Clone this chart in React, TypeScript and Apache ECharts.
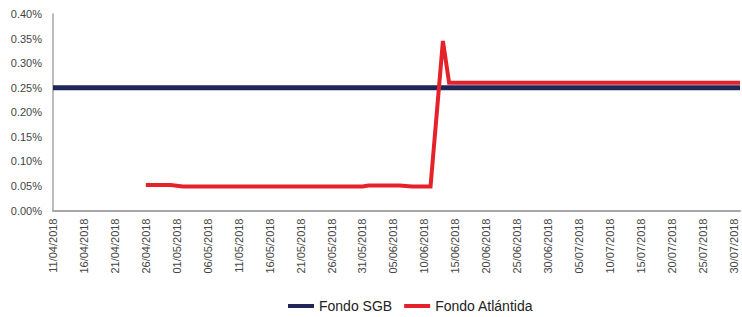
import React, { useEffect, useRef } from "react";
import * as echarts from "echarts";

// Daily date categories (dd/mm/yyyy) shown on the x axis
const dates: string[] = [
  "11/04/2018","12/04/2018","13/04/2018","14/04/2018","15/04/2018","16/04/2018","17/04/2018","18/04/2018","19/04/2018","20/04/2018",
  "21/04/2018","22/04/2018","23/04/2018","24/04/2018","25/04/2018","26/04/2018","27/04/2018","28/04/2018","29/04/2018","30/04/2018",
  "01/05/2018","02/05/2018","03/05/2018","04/05/2018","05/05/2018","06/05/2018","07/05/2018","08/05/2018","09/05/2018","10/05/2018",
  "11/05/2018","12/05/2018","13/05/2018","14/05/2018","15/05/2018","16/05/2018","17/05/2018","18/05/2018","19/05/2018","20/05/2018",
  "21/05/2018","22/05/2018","23/05/2018","24/05/2018","25/05/2018","26/05/2018","27/05/2018","28/05/2018","29/05/2018","30/05/2018",
  "31/05/2018","01/06/2018","02/06/2018","03/06/2018","04/06/2018","05/06/2018","06/06/2018","07/06/2018","08/06/2018","09/06/2018",
  "10/06/2018","11/06/2018","12/06/2018","13/06/2018","14/06/2018","15/06/2018","16/06/2018","17/06/2018","18/06/2018","19/06/2018",
  "20/06/2018","21/06/2018","22/06/2018","23/06/2018","24/06/2018","25/06/2018","26/06/2018","27/06/2018","28/06/2018","29/06/2018",
  "30/06/2018","01/07/2018","02/07/2018","03/07/2018","04/07/2018","05/07/2018","06/07/2018","07/07/2018","08/07/2018","09/07/2018",
  "10/07/2018","11/07/2018","12/07/2018","13/07/2018","14/07/2018","15/07/2018","16/07/2018","17/07/2018","18/07/2018","19/07/2018",
  "20/07/2018","21/07/2018","22/07/2018","23/07/2018","24/07/2018","25/07/2018","26/07/2018","27/07/2018","28/07/2018","29/07/2018",
  "30/07/2018","31/07/2018",
];

// Series values (percent), given as [date, value] at the points where the line changes
const fondoSGB: [string, number][] = [
  ["11/04/2018", 0.25],
  ["31/07/2018", 0.25],
];

const fondoAtlantida: [string, number][] = [
  ["26/04/2018", 0.052],
  ["30/04/2018", 0.052],
  ["02/05/2018", 0.049],
  ["31/05/2018", 0.049],
  ["01/06/2018", 0.051],
  ["06/06/2018", 0.051],
  ["08/06/2018", 0.049],
  ["11/06/2018", 0.049],
  ["13/06/2018", 0.345],
  ["14/06/2018", 0.26],
  ["31/07/2018", 0.26],
];

const seriesNames = ["Fondo SGB", "Fondo Atlántida"];
const seriesColors = ["#1f2758", "#e5222a"];

export default function App() {
  const ref = useRef<HTMLDivElement>(null);

  useEffect(() => {
    if (!ref.current) return;
    const chart = echarts.init(ref.current, null, { renderer: "svg" });
    const font = "'Liberation Sans', Arial, sans-serif";
    chart.setOption({
      animation: false,
      backgroundColor: "#ffffff",
      textStyle: { fontFamily: font },
      grid: { left: 53, right: 2, top: 14, bottom: 106.5, containLabel: false },
      legend: {
        left: 283,
        top: 294,
        itemGap: 12,
        itemWidth: 26,
        itemHeight: 4,
        icon: "rect",
        textStyle: { fontSize: 14, color: "#222", fontFamily: font },
        data: seriesNames,
      },
      xAxis: {
        type: "category",
        data: dates,
        boundaryGap: false,
        axisLine: { show: true, lineStyle: { color: "#a6a6a6", width: 2 } },
        axisTick: { show: false },
        axisLabel: {
          interval: 4,
          rotate: 90,
          margin: 8,
          fontSize: 11,
          color: "#444",
          fontFamily: font,
        },
        splitLine: { show: false },
      },
      yAxis: {
        type: "value",
        min: 0,
        max: 0.4,
        interval: 0.05,
        axisLine: { show: true, lineStyle: { color: "#a6a6a6", width: 1.5 } },
        axisTick: { show: false },
        splitLine: { show: false },
        axisLabel: {
          margin: 11,
          fontSize: 11,
          color: "#444",
          fontFamily: font,
          formatter: (v: number) => v.toFixed(2) + "%",
        },
      },
      series: [
        {
          name: seriesNames[0],
          type: "line",
          data: fondoSGB,
          showSymbol: false,
          symbol: "none",
          color: seriesColors[0],
          lineStyle: { color: seriesColors[0], width: 5 },
          z: 2,
        },
        {
          name: seriesNames[1],
          type: "line",
          data: fondoAtlantida,
          showSymbol: false,
          symbol: "none",
          color: seriesColors[1],
          lineStyle: { color: seriesColors[1], width: 4, join: "miter" },
          z: 3,
        },
      ],
    });
    return () => chart.dispose();
  }, []);

  return (
    <div
      ref={ref}
      style={{ position: "fixed", left: 0, top: 0, width: 742, height: 317 }}
    />
  );
}
